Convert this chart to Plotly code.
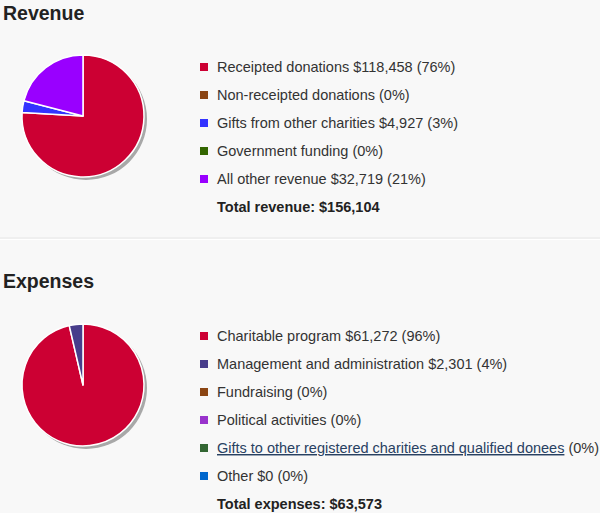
import plotly.graph_objects as go

W, H = 600, 513

# ---- data ----
rev_labels = ["Receipted donations", "Non-receipted donations", "Gifts from other charities",
              "Government funding", "All other revenue"]
rev_values = [118458, 0, 4927, 0, 32719]
rev_colors = ["#cc0033", "#8b4513", "#3333ff", "#336600", "#9900ff"]
rev_show_amount = [True, False, True, False, True]
rev_total = 156104

exp_labels = ["Charitable program", "Management and administration", "Fundraising",
              "Political activities", "Gifts to other registered charities and qualified donees", "Other"]
exp_values = [61272, 2301, 0, 0, 0, 0]
exp_colors = ["#cc0033", "#483d8b", "#8b4513", "#9933cc", "#336633", "#0066cc"]
exp_show_amount = [True, True, False, False, False, True]
exp_link = [False, False, False, False, True, False]
exp_total = 63573

FONT = "Liberation Sans, Arial, sans-serif"

def px(x):
    return x / W

def py(y):
    return 1 - y / H

fig = go.Figure()
shapes = []
annotations = []

def add_section(title, title_y, cx, cy, r, labels, values, colors, show_amount, links,
                row0, total_label, total):
    tot = sum(values)
    # shadow
    fig.add_trace(go.Pie(
        values=[tot], labels=["shadow"], marker=dict(colors=["#a8a8a8"], line=dict(width=0)),
        textinfo="none", hoverinfo="skip", showlegend=False, sort=False,
        domain=dict(x=[px(cx - r + 3), px(cx + r + 3)], y=[py(cy + r + 3), py(cy - r + 3)]),
    ))
    nz = [(l, v, c) for l, v, c in zip(labels, values, colors) if v > 0]
    fig.add_trace(go.Pie(
        values=[v for _, v, _ in nz], labels=[l for l, _, _ in nz],
        marker=dict(colors=[c for _, _, c in nz], line=dict(color="white", width=1.5)),
        textinfo="none", showlegend=False, sort=False, direction="clockwise", rotation=0,
        domain=dict(x=[px(cx - r), px(cx + r)], y=[py(cy + r), py(cy - r)]),
    ))
    annotations.append(dict(
        x=px(1), y=py(title_y), xref="paper", yref="paper", xanchor="left", yanchor="middle",
        text="<b>%s</b>" % title, showarrow=False,
        font=dict(family=FONT, size=19.5, color="#222222"),
    ))
    grand = sum(values)
    for i, (l, v, c) in enumerate(zip(labels, values, colors)):
        y = row0 + i * 28
        shapes.append(dict(type="rect", xref="paper", yref="paper",
                           x0=px(200), x1=px(208), y0=py(y + 4), y1=py(y - 4),
                           fillcolor=c, line=dict(width=0)))
        pct = round(100 * v / grand)
        amt = (" $%s" % format(v, ",")) if show_amount[i] else ""
        if links[i]:
            txt = ('<span style="text-decoration:underline;color:#284162">%s</span>%s (%d%%)'
                   % (l, amt, pct))
        else:
            txt = "%s%s (%d%%)" % (l, amt, pct)
        annotations.append(dict(
            x=px(215), y=py(y), xref="paper", yref="paper", xanchor="left", yanchor="middle",
            text=txt, showarrow=False, font=dict(family=FONT, size=14.5, color="#333333"),
        ))
    y = row0 + len(labels) * 28
    annotations.append(dict(
        x=px(215), y=py(y), xref="paper", yref="paper", xanchor="left", yanchor="middle",
        text="<b>%s: $%s</b>" % (total_label, format(total, ",")), showarrow=False,
        font=dict(family=FONT, size=14.5, color="#222222"),
    ))

add_section("Revenue", 13, 83, 116, 61, rev_labels, rev_values, rev_colors, rev_show_amount,
            [False] * 5, 67, "Total revenue", rev_total)
add_section("Expenses", 281, 83, 385, 61, exp_labels, exp_values, exp_colors, exp_show_amount,
            exp_link, 336, "Total expenses", exp_total)

# separator
shapes.append(dict(type="line", xref="paper", yref="paper", x0=0, x1=1, y0=py(238), y1=py(238),
                   line=dict(color="#e6e6e6", width=1)))
shapes.append(dict(type="line", xref="paper", yref="paper", x0=0, x1=1, y0=py(239.5), y1=py(239.5),
                   line=dict(color="#ffffff", width=1)))

fig.update_layout(
    width=W, height=H, margin=dict(l=0, r=0, t=0, b=0),
    paper_bgcolor="#f8f8f8", plot_bgcolor="#f8f8f8",
    shapes=shapes, annotations=annotations, showlegend=False,
)

fig.write_html("out.html", config={"displayModeBar": False},
               post_script="document.body.style.margin='0';document.body.style.background='#f8f8f8';")
